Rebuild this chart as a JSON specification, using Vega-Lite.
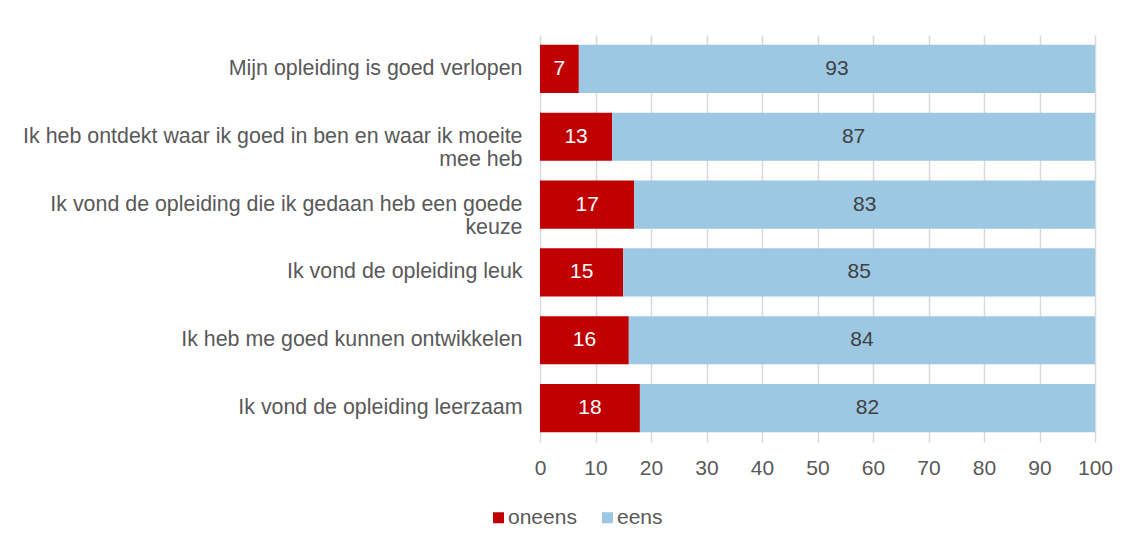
{
  "$schema": "https://vega.github.io/schema/vega-lite/v6.json",
  "width": 555,
  "height": 407,
  "autosize": {"type": "none"},
  "padding": {"left": 540, "top": 35, "right": 39, "bottom": 105},
  "background": "white",
  "config": {
    "view": {"stroke": null},
    "font": "Liberation Sans"
  },
  "data": {
    "values": [
      {"item": "Mijn opleiding is goed verlopen", "s": "oneens", "r": 1, "v": 7},
      {"item": "Mijn opleiding is goed verlopen", "s": "eens", "r": 2, "v": 93},
      {"item": "Ik heb ontdekt waar ik goed in ben en waar ik moeite|mee heb", "s": "oneens", "r": 1, "v": 13},
      {"item": "Ik heb ontdekt waar ik goed in ben en waar ik moeite|mee heb", "s": "eens", "r": 2, "v": 87},
      {"item": "Ik vond de opleiding die ik gedaan heb een goede|keuze", "s": "oneens", "r": 1, "v": 17},
      {"item": "Ik vond de opleiding die ik gedaan heb een goede|keuze", "s": "eens", "r": 2, "v": 83},
      {"item": "Ik vond de opleiding leuk", "s": "oneens", "r": 1, "v": 15},
      {"item": "Ik vond de opleiding leuk", "s": "eens", "r": 2, "v": 85},
      {"item": "Ik heb me goed kunnen ontwikkelen", "s": "oneens", "r": 1, "v": 16},
      {"item": "Ik heb me goed kunnen ontwikkelen", "s": "eens", "r": 2, "v": 84},
      {"item": "Ik vond de opleiding leerzaam", "s": "oneens", "r": 1, "v": 18},
      {"item": "Ik vond de opleiding leerzaam", "s": "eens", "r": 2, "v": 82}
    ]
  },
  "transform": [
    {"stack": "v", "groupby": ["item"], "sort": [{"field": "r", "order": "ascending"}], "as": ["x0", "x1"]},
    {"calculate": "(datum.x0 + datum.x1) / 2", "as": "mid"}
  ],
  "encoding": {
    "y": {
      "field": "item",
      "type": "nominal",
      "sort": null,
      "scale": {"paddingInner": 0.29, "paddingOuter": 0.145},
      "axis": {
        "title": null,
        "domain": false,
        "ticks": false,
        "labelPadding": 18,
        "labelFontSize": 21.4,
        "labelColor": "#595959",
        "labelLineHeight": 23,
        "labelLimit": 700,
        "labelExpr": "split(datum.label, '|')"
      }
    }
  },
  "layer": [
    {
      "mark": {"type": "bar"},
      "encoding": {
        "x": {
          "field": "x0",
          "type": "quantitative",
          "scale": {"domain": [0, 100], "nice": false},
          "axis": {
            "title": null,
            "values": [0, 10, 20, 30, 40, 50, 60, 70, 80, 90, 100],
            "domain": false,
            "ticks": false,
            "grid": true,
            "gridColor": "#d9d9d9",
            "gridWidth": 1.5,
            "labelFontSize": 21,
            "labelColor": "#595959",
            "labelFlush": false,
            "labelPadding": 15
          }
        },
        "x2": {"field": "x1"},
        "color": {
          "field": "s",
          "type": "nominal",
          "scale": {"domain": ["oneens", "eens"], "range": ["#c00000", "#9dc8e3"]},
          "legend": {
            "title": null,
            "orient": "none",
            "direction": "horizontal",
            "legendX": -52,
            "legendY": 472,
            "padding": 0,
            "symbolType": "square",
            "symbolSize": 121,
            "symbolStrokeWidth": 0,
            "labelFontSize": 21,
            "labelColor": "#595959",
            "labelOffset": -1,
            "columnPadding": 20
          }
        }
      }
    },
    {
      "mark": {"type": "text", "fontSize": 21, "align": "center", "baseline": "middle"},
      "encoding": {
        "x": {"field": "mid", "type": "quantitative"},
        "text": {"field": "v", "type": "quantitative"},
        "color": {
          "condition": {"test": "datum.s === 'oneens'", "value": "white"},
          "value": "#404040"
        }
      }
    }
  ]
}
